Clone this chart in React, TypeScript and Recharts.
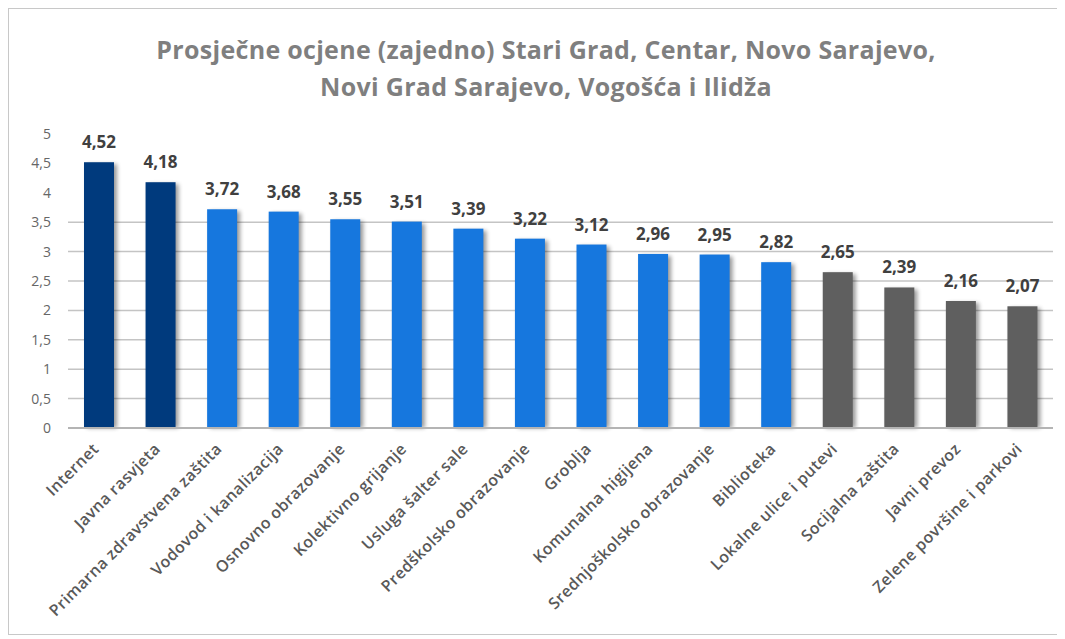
import { Bar, BarChart, CartesianGrid, Cell, LabelList, XAxis, YAxis } from "recharts";

const categories = [
  "Internet",
  "Javna rasvjeta",
  "Primarna zdravstvena zaštita",
  "Vodovod i kanalizacija",
  "Osnovno obrazovanje",
  "Kolektivno grijanje",
  "Usluga šalter sale",
  "Predškolsko obrazovanje",
  "Groblja",
  "Komunalna higijena",
  "Srednjoškolsko obrazovanje",
  "Biblioteka",
  "Lokalne ulice i putevi",
  "Socijalna zaštita",
  "Javni prevoz",
  "Zelene površine i parkovi",
];

const scores = [4.52, 4.18, 3.72, 3.68, 3.55, 3.51, 3.39, 3.22, 3.12, 2.96, 2.95, 2.82, 2.65, 2.39, 2.16, 2.07];

// grupa: 0 = najbolje, 1 = srednje, 2 = najslabije
const tiers = [0, 0, 1, 1, 1, 1, 1, 1, 1, 1, 1, 1, 2, 2, 2, 2];

const yTicks = [0, 0.5, 1, 1.5, 2, 2.5, 3, 3.5, 4, 4.5, 5];
const gridValues = [0, 0.5, 1, 1.5, 2, 2.5, 3, 3.5];

const tierColors = ["#003a7d", "#1677de", "#5f5f5f"];
const font = "'Open Sans', sans-serif";

const data = categories.map((name, i) => ({ name, value: scores[i], tier: tiers[i] }));

const fmt = (v: number | string) => String(v).replace(".", ",");

function ShadowBar(props: any) {
  const { x, y, width, height, fill, index } = props;
  if (height <= 0) return null;
  const id = `bar-shadow-${index}`;
  return (
    <g>
      <defs>
        <filter id={id} x="-50%" y="-50%" width="200%" height="200%">
          <feGaussianBlur stdDeviation="2" />
        </filter>
      </defs>
      <rect x={x + 3} y={y + 2} width={width} height={height - 2} fill="#000" opacity={0.4} filter={`url(#${id})`} />
      <rect x={x} y={y} width={width} height={height} fill={fill} />
    </g>
  );
}

function AngledTick(props: any) {
  const { x, y, payload } = props;
  return (
    <g transform={`translate(${x + 1},${y + 14})`}>
      <text
        textAnchor="end"
        transform="rotate(-45)"
        fill="#595959"
        fontSize={16}
        fontWeight={600}
        letterSpacing={0.4}
        fontFamily={font}
      >
        {payload.value}
      </text>
    </g>
  );
}

export default function App() {
  return (
    <div
      style={{
        position: "relative",
        width: 1050,
        height: 625,
        border: "1px solid #c8c8c8",
        background: "#fff",
        fontFamily: font,
      }}
    >
      <div
        style={{
          position: "absolute",
          top: 22,
          left: 0,
          width: 1074,
          textAlign: "center",
          color: "#7f7f7f",
          fontWeight: 700,
          fontSize: 25,
          letterSpacing: 0.3,
          lineHeight: "37px",
        }}
      >
        Prosječne ocjene (zajedno) Stari Grad, Centar, Novo Sarajevo,
        <br />
        Novi Grad Sarajevo, Vogošća i Ilidža
      </div>
      <BarChart
        width={1050}
        height={625}
        data={data}
        margin={{ top: 125, right: 6, bottom: 0, left: 0 }}
        barCategoryGap="25%"
      >
        <CartesianGrid
          vertical={false}
          horizontalValues={gridValues}
          stroke="#c4c4c4"
          strokeWidth={1.5}
        />
        <YAxis
          domain={[0, 5]}
          ticks={yTicks}
          width={59}
          tickLine={false}
          axisLine={false}
          tickSize={0}
          tickMargin={17}
          tickFormatter={fmt}
          tick={{ fill: "#666", fontSize: 14, fontFamily: font }}
          interval={0}
        />
        <XAxis
          dataKey="name"
          interval={0}
          height={206}
          tickLine={false}
          axisLine={{ stroke: "#b4b4b4", strokeWidth: 2 }}
          tick={<AngledTick />}
        />
        <Bar dataKey="value" isAnimationActive={false} shape={<ShadowBar />} barSize={30}>
          {data.map((d) => (
            <Cell key={d.name} fill={tierColors[d.tier]} />
          ))}
          <LabelList
            dataKey="value"
            position="top"
            offset={14}
            formatter={fmt}
            fill="#404040"
            fontSize={17}
            fontWeight={700}
            fontFamily={font}
          />
        </Bar>
      </BarChart>
    </div>
  );
}
